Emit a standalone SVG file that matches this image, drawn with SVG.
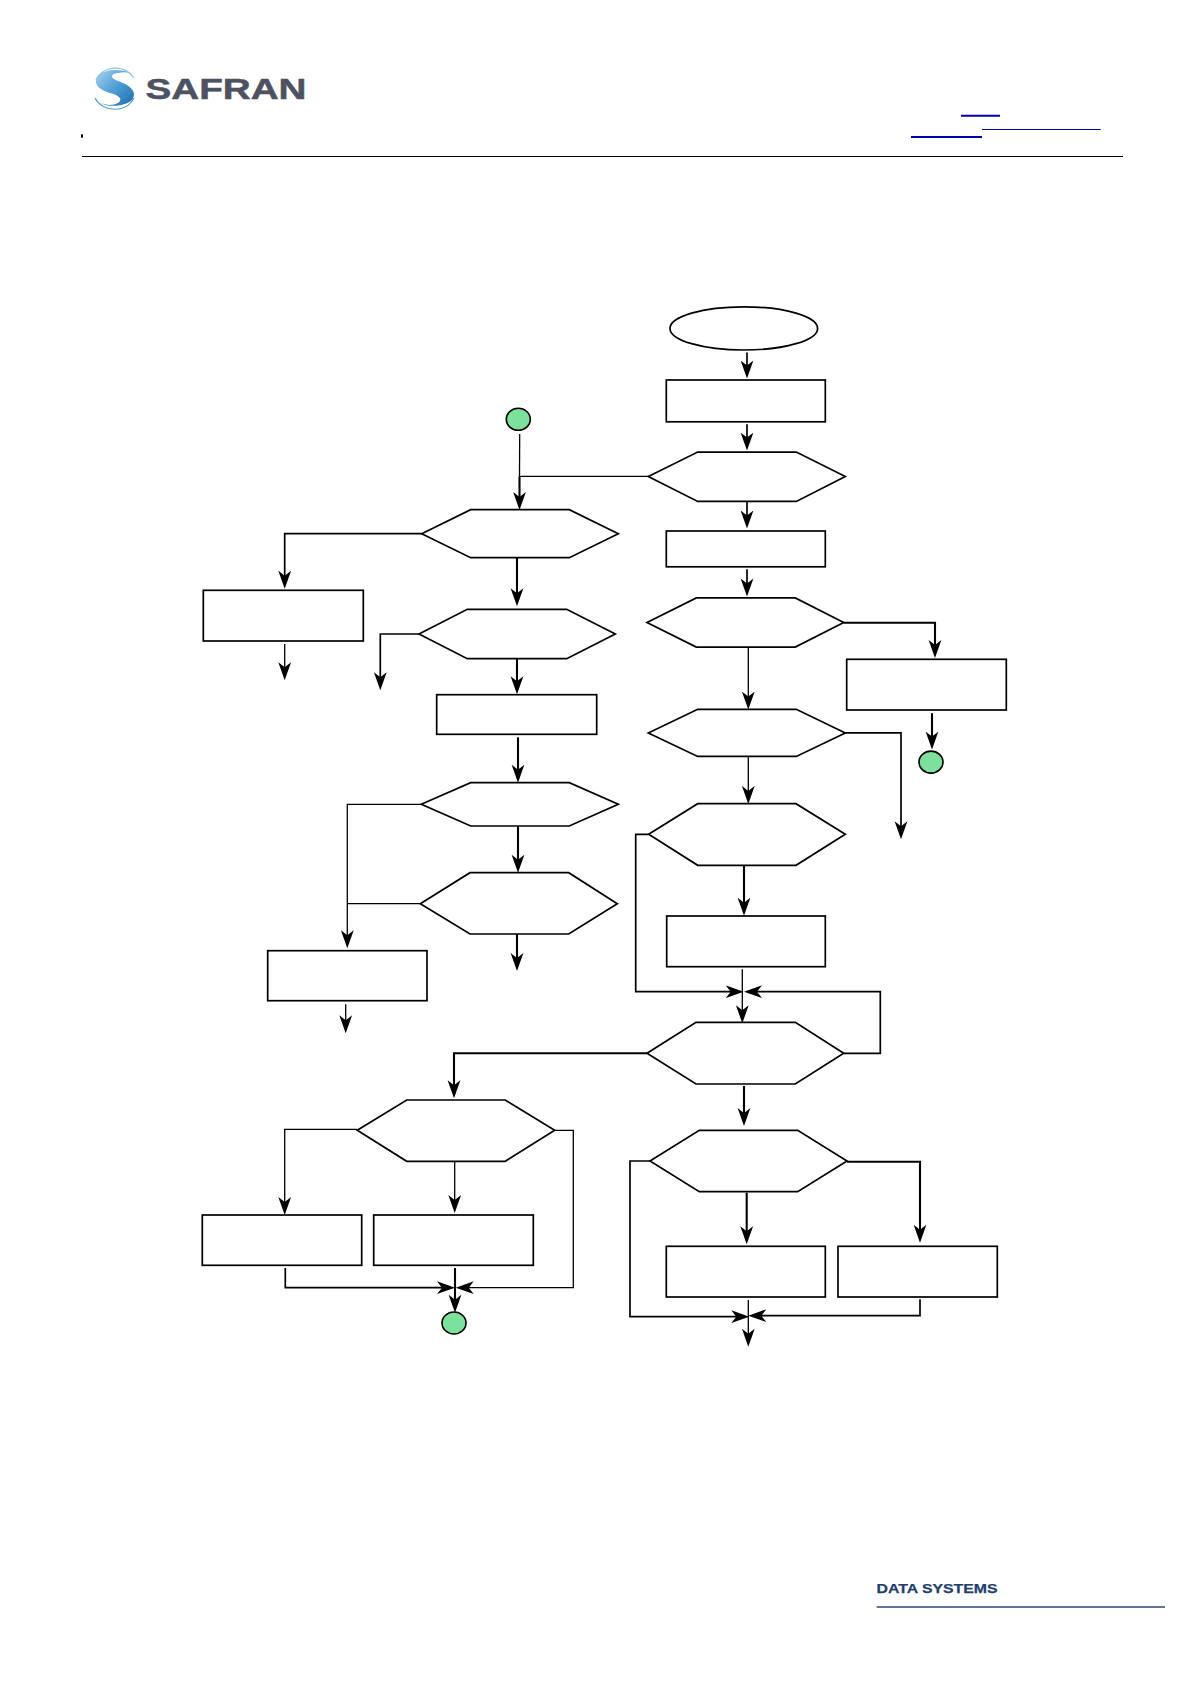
<svg xmlns="http://www.w3.org/2000/svg" width="1191" height="1684" viewBox="0 0 1191 1684">
<style>
.n{fill:#fff;stroke:#000;stroke-width:1.7}
.g{fill:#7ce29b;stroke:#000;stroke-width:1.6}
.c{fill:none;stroke:#000;stroke-width:1.7;marker-end:url(#a)}
.t{stroke-width:1.3}
.h{stroke-width:2.1}
.p{fill:none;stroke:#000;stroke-width:1.3}
.u{stroke:#0000a8}
</style>
<defs>
<marker id="a" markerUnits="userSpaceOnUse" markerWidth="20" markerHeight="14" refX="14" refY="7" orient="auto">
<path d="M0,0.6 L18,7 L0,13.4 L5,7 Z" fill="#000"/>
</marker>
<linearGradient id="sg" x1="0" y1="0" x2="1" y2="1">
<stop offset="0" stop-color="#a9d3ee"/><stop offset=".5" stop-color="#4f9ed6"/><stop offset="1" stop-color="#1f6aa8"/>
</linearGradient>
</defs>
<rect width="1191" height="1684" fill="#fff"/>

<g id="header">
<path d="M131,73 C122,69 104,68 98,76 C92,84 100,90 110,93 C118,95 124,99 118,103 C112,106 106,105 101,103 C108,108 126,106 132,100 C138,92 130,85 118,81 C110,78 110,74 118,73 C122,72 127,72 131,73 Z" fill="url(#sg)"/>
<path d="M96,80 C102,66 124,63 134,78" fill="none" stroke="#8cc0e4" stroke-width="1.2"/>
<path d="M95,98 C102,112 126,114 134,98" fill="none" stroke="#5a9fd0" stroke-width="1.2"/>
<text x="145.5" y="99.3" font-family="'Liberation Sans',Arial,sans-serif" font-weight="700" font-size="30" fill="#4d5162" stroke="#4d5162" stroke-width=".5" textLength="161" lengthAdjust="spacingAndGlyphs">SAFRAN</text>
<rect x="81" y="134.3" width="2" height="3.4" fill="#000"/>
<line x1="961" y1="115.7" x2="1000" y2="115.7" class="u" stroke-width="2"/>
<line x1="982" y1="129.5" x2="1100.7" y2="129.5" class="u" stroke-width="1"/>
<line x1="911" y1="137" x2="982" y2="137" class="u" stroke-width="2"/>
<line x1="82" y1="156.5" x2="1123" y2="156.5" stroke="#000" stroke-width="1"/>
</g>

<g id="footer">
<text x="876.5" y="1593.3" font-family="'Liberation Sans',Arial,sans-serif" font-weight="700" font-size="13.5" fill="#1f3f6e" stroke="#1f3f6e" stroke-width=".25" textLength="121" lengthAdjust="spacingAndGlyphs">DATA SYSTEMS</text>
<line x1="876.7" y1="1607" x2="1165" y2="1607" stroke="#2f4a78" stroke-width="1.5"/>
</g>

<g id="connectors">
<path class="c" d="M747,352.5V374.5"/>
<path class="c" d="M747,424.3V446.6"/>
<path class="c" d="M747,501.4V524.5"/>
<path class="c" d="M747,569.3V592.4"/>
<path class="c t" d="M748.3,647V705.6"/>
<path class="c t" d="M748.3,756.4V799.9"/>
<path class="p" d="M648.3,476.4H519.5"/>
<path class="p" d="M519.7,434L519.5,476.4"/>
<path class="c h" d="M519.5,476.4V506"/>
<path class="c h" d="M843.7,622.7H935V654"/>
<path class="c h" d="M932,713.2V745.6"/>
<path class="c" d="M845.3,732.9H901V835.2"/>
<path class="c" d="M421.7,533.7H284.7V584.7"/>
<path class="c h" d="M517,557.7V602.3"/>
<path class="c t" d="M284.7,644V676.3"/>
<path class="c" d="M419,634H380.3V686.3"/>
<path class="c h" d="M517,658.7V690.3"/>
<path class="c h" d="M518,737.3V778.7"/>
<path class="c h" d="M518,826V868.7"/>
<path class="c t" d="M421.3,804.3H347.3V944.3"/>
<path class="p" d="M420.3,903.7H347.3"/>
<path class="c h" d="M517,934V967"/>
<path class="c t" d="M345.7,1004.3V1029.3"/>
<path class="c h" d="M647,1053.3H454V1094.3"/>
<path class="c" d="M648.7,834.3H635.7V991.7H739.7"/>
<path class="c h" d="M744,865.3V911.7"/>
<path class="c t" d="M742.3,969.3V1019.3"/>
<path class="c" d="M843.7,1053.3H880.3V991.7H748"/>
<path class="c h" d="M744,1086V1122"/>
<path class="c t" d="M357.3,1129.3H284.7V1211"/>
<path class="c t" d="M454.7,1161.3V1209"/>
<path class="c t" d="M554.7,1130.3H573.3V1287.7H459.7"/>
<path class="c" d="M285.3,1268V1287.7H451"/>
<path class="c h" d="M455,1268V1308.7"/>
<path class="c h" d="M746.7,1192.7V1240.3"/>
<path class="c" d="M650,1161H630V1316.7H745.3"/>
<path class="c h" d="M847,1161.7H920V1238.7"/>
<path class="c" d="M920,1299.3V1315.7H752.3"/>
<path class="c t" d="M748.3,1300V1342.7"/>
</g>

<g id="start"><ellipse class="n" cx="743.8" cy="328.4" rx="73.8" ry="21.6"/></g>
<g id="box1"><rect class="n" x="666.3" y="380" width="159" height="41.8"/></g>
<g id="hex1"><polygon class="n" points="648.3,476.4 697.7,452.1 796.3,452.1 845.3,476.4 796.3,501.4 697.7,501.4"/></g>
<g id="box2"><rect class="n" x="666.3" y="531" width="159" height="35.8"/></g>
<g id="hex2"><polygon class="n" points="647,622.5 696.3,597.9 795.3,597.9 843.7,622.5 795.3,647.1 696.3,647.1"/></g>
<g id="box3"><rect class="n" x="846.7" y="659.3" width="159.6" height="50.7"/></g>
<g id="conn-b"><ellipse class="g" cx="931" cy="762.1" rx="12" ry="11"/></g>
<g id="hex3"><polygon class="n" points="648.3,732.9 697.7,709.3 796.3,709.3 845.3,732.9 796.3,756.4 697.7,756.4"/></g>
<g id="hex4"><polygon class="n" points="648.7,834.3 697.7,803.7 796,803.7 845.3,834.3 796,865.3 697.7,865.3"/></g>
<g id="box4"><rect class="n" x="666.7" y="916" width="158.6" height="50.7"/></g>
<g id="hex5"><polygon class="n" points="647,1053.3 696,1022.3 795.3,1022.3 843.7,1053.3 795.3,1084 696,1084"/></g>
<g id="conn-a"><ellipse class="g" cx="518.3" cy="419.3" rx="12" ry="11"/></g>
<g id="hex6"><polygon class="n" points="421.7,533.7 470.7,509.7 569.3,509.7 618.3,533.7 569.3,557.7 470.7,557.7"/></g>
<g id="box5"><rect class="n" x="203.3" y="590.3" width="160" height="50.7"/></g>
<g id="hex7"><polygon class="n" points="419,634 467.3,609.3 566.7,609.3 615.3,634 566.7,658.7 467.3,658.7"/></g>
<g id="box6"><rect class="n" x="436.7" y="694.7" width="160" height="39.6"/></g>
<g id="hex8"><polygon class="n" points="421.3,804.3 470.7,782.7 569.3,782.7 618.3,804.3 569.3,826 470.7,826"/></g>
<g id="hex9"><polygon class="n" points="420.3,903.7 470,872.7 568.7,872.7 617.3,903.7 568.7,934 470,934"/></g>
<g id="box7"><rect class="n" x="267.7" y="950.7" width="159.3" height="50"/></g>
<g id="hex10"><polygon class="n" points="357.3,1130.3 406.7,1100 505.3,1100 554.7,1130.3 505.3,1161.3 406.7,1161.3"/></g>
<g id="box8"><rect class="n" x="202.3" y="1215" width="159.4" height="50.3"/></g>
<g id="box9"><rect class="n" x="373.7" y="1215" width="159.6" height="50.3"/></g>
<g id="conn-c"><ellipse class="g" cx="454" cy="1323" rx="12" ry="11"/></g>
<g id="hex11"><polygon class="n" points="650,1161 699.3,1130.3 797.7,1130.3 847,1161 797.7,1191.7 699.3,1191.7"/></g>
<g id="box10"><rect class="n" x="666.3" y="1246.3" width="159" height="50.7"/></g>
<g id="box11"><rect class="n" x="838" y="1246.3" width="159.3" height="50.7"/></g>
</svg>
